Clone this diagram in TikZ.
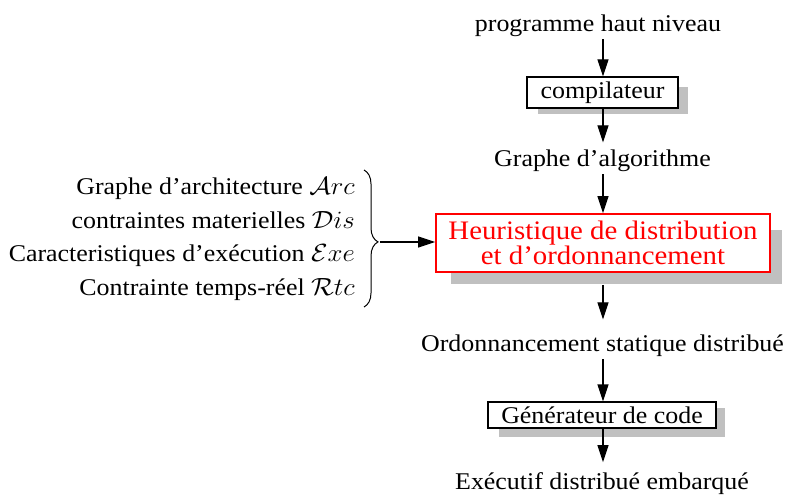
\documentclass[tikz,border=0pt]{standalone}
\usepackage{fontspec}
\setmainfont{Liberation Serif}
\usetikzlibrary{arrows.meta,decorations.pathreplacing,calc}
\newcommand\sx[1]{\scalebox{1.08}[1]{#1}}
\definecolor{shadowgray}{RGB}{192,192,192}
\begin{document}
\begin{tikzpicture}[x=1pt,y=-1pt,
  lbl/.style={inner sep=2pt, font=\fontsize{24}{28}\selectfont},
  box/.style={draw, line width=1.1pt, fill=white, inner sep=0pt, font=\fontsize{24}{28}\selectfont},
  hbox/.style={draw=red, line width=1.8pt, fill=white, text=red, inner sep=0pt, align=center, font=\fontsize{26.7}{24}\selectfont},
  arr/.style={line width=1.1pt, -{Triangle[length=17pt,width=11pt]}},
  shadow/.style={fill=shadowgray}]
\useasboundingbox (0,0) rectangle (793,497);

% shadows first
\fill[shadow] (538,87) rectangle (688,114);
\fill[shadow] (451,230) rectangle (782,284);
\fill[shadow] (499,408) rectangle (725,437);

% main column
\node[lbl, anchor=base] (prog) at (598,32) {\sx{programme haut niveau}};
\node[box, minimum width=151pt, minimum height=31pt] (comp) at (602.5,92.5) {\sx{compilateur}};
\node[lbl, anchor=base] (graphe) at (602.5,167) {\sx{Graphe d'algorithme}};
\node[hbox, minimum width=334pt, minimum height=58pt] (heur) at (603,243) {\sx{Heuristique de distribution}\\\sx{et d'ordonnancement}};
\node[lbl, anchor=base] (ordo) at (602.5,352) {\sx{Ordonnancement statique distribué}};
\node[box, minimum width=228pt, minimum height=26pt] (gen) at (602,415) {\sx{Générateur de code}};
\node[lbl, anchor=base] (exec) at (602,489) {\sx{Exécutif distribué embarqué}};

% left inputs
\node[lbl, anchor=base east] (arc) at (357,195) {\sx{Graphe d'architecture $\mathcal{A}rc$}};
\node[lbl, anchor=base east] (dis) at (357,228.5) {\sx{contraintes materielles $\mathcal{D}is$}};
\node[lbl, anchor=base east] (exe) at (357,262) {\sx{Caracteristiques d'exécution $\mathcal{E}xe$}};
\node[lbl, anchor=base east] (rtc) at (357,295.5) {\sx{Contrainte temps-réel $\mathcal{R}tc$}};

\draw[line width=1pt, decorate, decoration={brace, amplitude=14pt, aspect=0.525}] (364,170) -- (364,307);
\coordinate (btip) at (380,242);

% arrows (all on the vertical axis of the heuristic box)
\draw[arr] (prog.south -| heur.center) -- (comp.north -| heur.center);
\draw[arr, shorten >=5.7pt] (comp.south -| heur.center) -- (graphe.north -| heur.center);
\draw[arr] (graphe.south -| heur.center) -- (heur.north);
\draw[arr, shorten <=12pt, shorten >=13.7pt] (heur.south) -- (ordo.north -| heur.center);
\draw[arr] (ordo.south -| heur.center) -- (gen.north -| heur.center);
\draw[arr, shorten >=7.7pt] (gen.south -| heur.center) -- (exec.north -| heur.center);
\draw[arr] (btip) -- (heur.west |- btip);
\end{tikzpicture}
\end{document}
